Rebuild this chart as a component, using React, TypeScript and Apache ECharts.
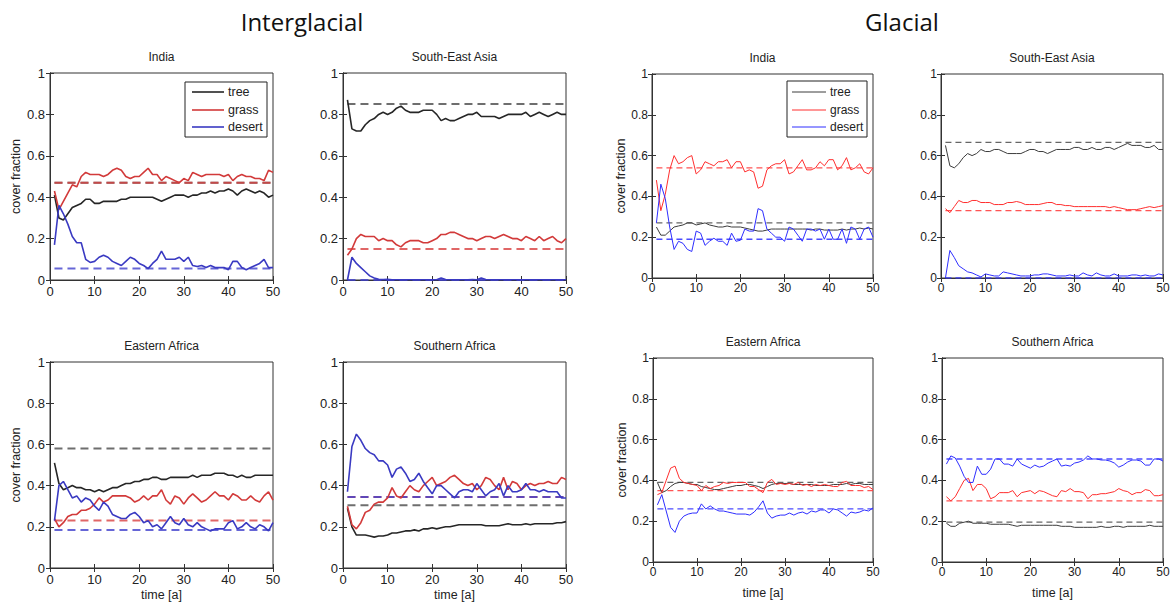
import React, { useEffect, useRef } from 'react';
import * as echarts from 'echarts';

// ---------- DATA (cover fraction, time steps 1..50) ----------
const igIndiaTree = [
  0.41, 0.30, 0.29, 0.32, 0.35, 0.36, 0.37, 0.39, 0.39, 0.37,
  0.37, 0.38, 0.38, 0.38, 0.38, 0.39, 0.39, 0.40, 0.40, 0.40,
  0.40, 0.40, 0.40, 0.39, 0.38, 0.39, 0.40, 0.41, 0.41, 0.41,
  0.40, 0.41, 0.41, 0.42, 0.42, 0.43, 0.42, 0.43, 0.43, 0.44,
  0.43, 0.41, 0.43, 0.44, 0.43, 0.42, 0.43, 0.42, 0.40, 0.41];
const igIndiaGrass = [
  0.43, 0.34, 0.38, 0.42, 0.46, 0.45, 0.50, 0.52, 0.51, 0.51,
  0.51, 0.50, 0.51, 0.53, 0.54, 0.53, 0.50, 0.49, 0.50, 0.50,
  0.52, 0.54, 0.51, 0.51, 0.48, 0.50, 0.49, 0.48, 0.47, 0.49,
  0.48, 0.52, 0.51, 0.50, 0.51, 0.51, 0.51, 0.51, 0.50, 0.51,
  0.48, 0.50, 0.51, 0.50, 0.50, 0.49, 0.49, 0.48, 0.53, 0.52];
const igIndiaDesert = [
  0.17, 0.36, 0.32, 0.27, 0.21, 0.18, 0.18, 0.10, 0.085, 0.09,
  0.11, 0.12, 0.11, 0.09, 0.08, 0.07, 0.09, 0.11, 0.10, 0.08,
  0.07, 0.055, 0.08, 0.10, 0.14, 0.10, 0.10, 0.10, 0.11, 0.09,
  0.11, 0.07, 0.065, 0.07, 0.06, 0.07, 0.06, 0.06, 0.06, 0.05,
  0.09, 0.09, 0.06, 0.05, 0.06, 0.07, 0.08, 0.10, 0.06, 0.06];
const igIndiaEq = [0.47, 0.47, 0.055];

const igSEAsiaTree = [
  0.87, 0.73, 0.72, 0.72, 0.75, 0.77, 0.78, 0.80, 0.81, 0.80,
  0.81, 0.83, 0.84, 0.82, 0.81, 0.81, 0.81, 0.82, 0.82, 0.82,
  0.80, 0.77, 0.78, 0.77, 0.77, 0.78, 0.79, 0.80, 0.80, 0.81,
  0.79, 0.79, 0.79, 0.79, 0.78, 0.79, 0.80, 0.80, 0.80, 0.80,
  0.81, 0.79, 0.80, 0.81, 0.80, 0.79, 0.80, 0.81, 0.80, 0.80];
const igSEAsiaGrass = [
  0.12, 0.15, 0.20, 0.22, 0.21, 0.21, 0.21, 0.19, 0.20, 0.19,
  0.19, 0.17, 0.16, 0.18, 0.19, 0.19, 0.19, 0.18, 0.18, 0.19,
  0.20, 0.22, 0.22, 0.23, 0.23, 0.22, 0.21, 0.20, 0.20, 0.19,
  0.20, 0.21, 0.21, 0.20, 0.21, 0.22, 0.21, 0.20, 0.20, 0.19,
  0.21, 0.20, 0.19, 0.21, 0.19, 0.20, 0.21, 0.19, 0.18, 0.20];
const igSEAsiaDesert = [
  0.0, 0.11, 0.08, 0.06, 0.04, 0.02, 0.01, 0.003, 0.002, 0.003,
  0.001, 0.001, 0.001, 0.001, 0.001, 0.001, 0.001, 0.001, 0.001, 0.001,
  0.001, 0.01, 0.002, 0.001, 0.001, 0.001, 0.001, 0.001, 0.002, 0.001,
  0.01, 0.002, 0.001, 0.001, 0.001, 0.001, 0.001, 0.001, 0.001, 0.001,
  0.001, 0.001, 0.001, 0.001, 0.001, 0.001, 0.001, 0.001, 0.001, 0.001];
const igSEAsiaEq = [0.85, 0.15, 0.0];

const igEAfricaTree = [
  0.51, 0.41, 0.38, 0.39, 0.40, 0.39, 0.39, 0.38, 0.38, 0.37,
  0.38, 0.37, 0.38, 0.39, 0.39, 0.40, 0.41, 0.41, 0.42, 0.42,
  0.43, 0.43, 0.44, 0.44, 0.43, 0.43, 0.44, 0.44, 0.44, 0.44,
  0.44, 0.45, 0.44, 0.45, 0.45, 0.45, 0.46, 0.46, 0.46, 0.45,
  0.45, 0.44, 0.45, 0.44, 0.44, 0.45, 0.45, 0.45, 0.45, 0.45];
const igEAfricaGrass = [
  0.24, 0.20, 0.22, 0.25, 0.26, 0.26, 0.28, 0.28, 0.29, 0.31,
  0.34, 0.32, 0.33, 0.35, 0.35, 0.35, 0.35, 0.34, 0.32, 0.33,
  0.35, 0.33, 0.35, 0.35, 0.38, 0.33, 0.31, 0.35, 0.34, 0.31,
  0.34, 0.36, 0.34, 0.32, 0.33, 0.35, 0.37, 0.35, 0.35, 0.33,
  0.36, 0.35, 0.33, 0.33, 0.35, 0.33, 0.32, 0.35, 0.37, 0.33];
const igEAfricaDesert = [
  0.23, 0.40, 0.42, 0.38, 0.34, 0.35, 0.32, 0.34, 0.33, 0.30,
  0.28, 0.32, 0.30, 0.26, 0.25, 0.24, 0.24, 0.26, 0.27, 0.25,
  0.22, 0.23, 0.20, 0.21, 0.19, 0.22, 0.25, 0.22, 0.21, 0.24,
  0.21, 0.20, 0.22, 0.20, 0.19, 0.18, 0.19, 0.19, 0.19, 0.22,
  0.23, 0.19, 0.20, 0.22, 0.20, 0.19, 0.21, 0.20, 0.18, 0.22];
const igEAfricaEq = [0.58, 0.23, 0.185];

const igSAfricaTree = [
  0.29, 0.20, 0.16, 0.16, 0.16, 0.155, 0.15, 0.155, 0.155, 0.16,
  0.17, 0.17, 0.175, 0.18, 0.18, 0.185, 0.18, 0.19, 0.19, 0.195,
  0.19, 0.195, 0.20, 0.20, 0.205, 0.21, 0.21, 0.21, 0.21, 0.21,
  0.21, 0.205, 0.205, 0.205, 0.205, 0.21, 0.215, 0.21, 0.21, 0.21,
  0.215, 0.21, 0.215, 0.215, 0.215, 0.215, 0.215, 0.22, 0.22, 0.225];
const igSAfricaGrass = [
  0.30, 0.21, 0.19, 0.22, 0.27, 0.28, 0.31, 0.32, 0.32, 0.34,
  0.39, 0.35, 0.34, 0.37, 0.40, 0.38, 0.37, 0.40, 0.42, 0.44,
  0.40, 0.41, 0.42, 0.44, 0.45, 0.43, 0.41, 0.40, 0.41, 0.38,
  0.40, 0.44, 0.43, 0.40, 0.38, 0.44, 0.38, 0.42, 0.41, 0.38,
  0.40, 0.41, 0.40, 0.41, 0.41, 0.42, 0.41, 0.41, 0.44, 0.43];
const igSAfricaDesert = [
  0.37, 0.59, 0.65, 0.62, 0.58, 0.56, 0.55, 0.52, 0.52, 0.50,
  0.44, 0.48, 0.49, 0.46, 0.42, 0.43, 0.46, 0.42, 0.39, 0.36,
  0.40, 0.40, 0.38, 0.36, 0.34, 0.37, 0.38, 0.38, 0.37, 0.41,
  0.38, 0.35, 0.37, 0.38, 0.41, 0.35, 0.40, 0.37, 0.37, 0.38,
  0.41, 0.38, 0.38, 0.37, 0.38, 0.37, 0.37, 0.37, 0.34, 0.34];
const igSAfricaEq = [0.305, 0.345, 0.345];

const gIndiaTree = [
  0.25, 0.21, 0.21, 0.23, 0.25, 0.255, 0.26, 0.27, 0.27, 0.26,
  0.265, 0.27, 0.26, 0.255, 0.25, 0.25, 0.255, 0.25, 0.25, 0.25,
  0.245, 0.24, 0.235, 0.23, 0.23, 0.235, 0.24, 0.24, 0.24, 0.24,
  0.24, 0.24, 0.24, 0.24, 0.24, 0.235, 0.24, 0.24, 0.235, 0.235,
  0.235, 0.235, 0.24, 0.235, 0.24, 0.24, 0.245, 0.24, 0.245, 0.24];
const gIndiaGrass = [
  0.48, 0.33, 0.41, 0.53, 0.60, 0.56, 0.57, 0.59, 0.60, 0.51,
  0.53, 0.57, 0.56, 0.55, 0.57, 0.57, 0.58, 0.54, 0.57, 0.57,
  0.52, 0.53, 0.52, 0.44, 0.45, 0.53, 0.55, 0.56, 0.56, 0.58,
  0.51, 0.52, 0.55, 0.58, 0.53, 0.53, 0.54, 0.57, 0.55, 0.58,
  0.58, 0.53, 0.55, 0.59, 0.53, 0.54, 0.56, 0.52, 0.51, 0.54];
const gIndiaDesert = [
  0.27, 0.46, 0.39, 0.25, 0.14, 0.18, 0.17, 0.14, 0.13, 0.23,
  0.22, 0.16, 0.18, 0.195, 0.18, 0.18, 0.16, 0.22, 0.18, 0.185,
  0.24, 0.23, 0.23, 0.34, 0.33, 0.24, 0.22, 0.20, 0.20, 0.18,
  0.25, 0.24, 0.21, 0.18, 0.24, 0.24, 0.23, 0.24, 0.19, 0.24,
  0.19, 0.19, 0.24, 0.17, 0.25, 0.24, 0.19, 0.24, 0.25, 0.20];
const gIndiaEq = [0.27, 0.54, 0.19];

const gSEAsiaTree = [
  0.65, 0.55, 0.54, 0.56, 0.59, 0.61, 0.60, 0.61, 0.63, 0.62,
  0.62, 0.63, 0.63, 0.62, 0.61, 0.61, 0.61, 0.61, 0.62, 0.63,
  0.63, 0.62, 0.62, 0.61, 0.62, 0.63, 0.63, 0.63, 0.63, 0.64,
  0.64, 0.63, 0.63, 0.64, 0.63, 0.63, 0.64, 0.64, 0.63, 0.64,
  0.65, 0.66, 0.65, 0.65, 0.65, 0.64, 0.64, 0.65, 0.63, 0.63];
const gSEAsiaGrass = [
  0.34, 0.32, 0.35, 0.38, 0.37, 0.37, 0.38, 0.38, 0.37, 0.37,
  0.37, 0.36, 0.36, 0.36, 0.37, 0.37, 0.375, 0.37, 0.36, 0.36,
  0.36, 0.36, 0.365, 0.37, 0.37, 0.36, 0.36, 0.355, 0.355, 0.35,
  0.35, 0.35, 0.35, 0.35, 0.35, 0.35, 0.35, 0.345, 0.35, 0.345,
  0.34, 0.335, 0.335, 0.335, 0.34, 0.345, 0.35, 0.345, 0.35, 0.355];
const gSEAsiaDesert = [
  0.0, 0.135, 0.10, 0.06, 0.045, 0.03, 0.025, 0.015, 0.005, 0.02,
  0.015, 0.01, 0.01, 0.03, 0.025, 0.02, 0.015, 0.01, 0.01, 0.01,
  0.015, 0.015, 0.02, 0.02, 0.015, 0.01, 0.01, 0.01, 0.015, 0.01,
  0.01, 0.025, 0.015, 0.01, 0.025, 0.015, 0.01, 0.01, 0.02, 0.01,
  0.01, 0.01, 0.015, 0.015, 0.01, 0.015, 0.01, 0.01, 0.02, 0.015];
const gSEAsiaEq = [0.665, 0.33, 0.0];

const gEAfricaTree = [
  0.39, 0.34, 0.35, 0.37, 0.385, 0.39, 0.39, 0.385, 0.38, 0.38,
  0.37, 0.365, 0.36, 0.355, 0.355, 0.36, 0.365, 0.37, 0.375, 0.375,
  0.38, 0.38, 0.375, 0.37, 0.36, 0.37, 0.38, 0.385, 0.385, 0.385,
  0.385, 0.38, 0.38, 0.38, 0.38, 0.38, 0.375, 0.375, 0.375, 0.375,
  0.38, 0.38, 0.38, 0.385, 0.38, 0.385, 0.385, 0.38, 0.38, 0.38];
const gEAfricaGrass = [
  0.33, 0.34, 0.40, 0.46, 0.47, 0.41, 0.39, 0.385, 0.38, 0.375,
  0.35, 0.375, 0.36, 0.37, 0.375, 0.39, 0.385, 0.39, 0.39, 0.39,
  0.39, 0.37, 0.37, 0.355, 0.34, 0.39, 0.405, 0.38, 0.385, 0.38,
  0.385, 0.38, 0.39, 0.375, 0.38, 0.37, 0.38, 0.375, 0.38, 0.375,
  0.37, 0.37, 0.39, 0.395, 0.375, 0.375, 0.375, 0.365, 0.37, 0.355];
const gEAfricaDesert = [
  0.28, 0.33, 0.25, 0.17, 0.145, 0.20, 0.225, 0.235, 0.24, 0.24,
  0.285, 0.26, 0.275, 0.26, 0.25, 0.25, 0.245, 0.24, 0.235, 0.235,
  0.235, 0.23, 0.245, 0.27, 0.30, 0.24, 0.215, 0.225, 0.23, 0.23,
  0.24, 0.23, 0.24, 0.245, 0.235, 0.25, 0.245, 0.255, 0.255, 0.24,
  0.26, 0.255, 0.24, 0.225, 0.245, 0.24, 0.245, 0.255, 0.25, 0.265];
const gEAfricaEq = [0.39, 0.35, 0.26];

const gSAfricaTree = [
  0.19, 0.175, 0.175, 0.19, 0.195, 0.20, 0.19, 0.19, 0.19, 0.19,
  0.185, 0.185, 0.185, 0.185, 0.185, 0.18, 0.175, 0.18, 0.18, 0.18,
  0.18, 0.18, 0.18, 0.18, 0.18, 0.18, 0.175, 0.175, 0.175, 0.17,
  0.17, 0.17, 0.17, 0.17, 0.17, 0.175, 0.17, 0.17, 0.175, 0.175,
  0.17, 0.175, 0.175, 0.175, 0.175, 0.175, 0.18, 0.175, 0.175, 0.175];
const gSAfricaGrass = [
  0.32, 0.30, 0.32, 0.36, 0.40, 0.41, 0.35, 0.38, 0.38, 0.36,
  0.31, 0.32, 0.34, 0.34, 0.34, 0.35, 0.32, 0.34, 0.345, 0.35,
  0.335, 0.35, 0.345, 0.335, 0.325, 0.32, 0.35, 0.345, 0.36, 0.345,
  0.345, 0.34, 0.31, 0.33, 0.33, 0.335, 0.335, 0.34, 0.345, 0.36,
  0.35, 0.345, 0.33, 0.34, 0.34, 0.355, 0.35, 0.325, 0.325, 0.33];
const gSAfricaDesert = [
  0.48, 0.52, 0.51, 0.47, 0.42, 0.39, 0.39, 0.47, 0.43, 0.43,
  0.455, 0.505, 0.505, 0.48, 0.48, 0.47, 0.505, 0.48, 0.47, 0.46,
  0.475, 0.465, 0.47, 0.485, 0.495, 0.505, 0.47, 0.475, 0.47, 0.485,
  0.49, 0.50, 0.52, 0.505, 0.505, 0.50, 0.50, 0.495, 0.485, 0.465,
  0.475, 0.49, 0.50, 0.50, 0.495, 0.475, 0.475, 0.505, 0.505, 0.495];
const gSAfricaEq = [0.195, 0.30, 0.505];

const coverTypes = ['tree', 'grass', 'desert'];
const xTicks = { min: 0, max: 50, interval: 10 };
const yTicks = { min: 0, max: 1, interval: 0.2 };
const eraTitles = ['Interglacial', 'Glacial'];

// ---------- LAYOUT / STYLE ----------
const FONT = '"Liberation Sans", Arial, Helvetica, sans-serif';

const eraStyle: any = {
  ig: {
    colors: ['#262626', '#d23a3a', '#3a3ac2'],
    dashColors: ['#4a4a4a', '#d84040', '#4040cc'],
    width: 1.6, dashWidth: 2, dash: [8, 5], dashOpacity: 0.8,
    tickFont: 13, nameFont: 12.5, titleFont: 12,
    yLabelMargin: 5, xLabelMargin: 5, yNameGap: 28, xNameGap: 20,
  },
  g: {
    colors: ['#3c3c3c', '#ff2e2e', '#2e2eff'],
    dashColors: ['#555555', '#ff4040', '#3838ff'],
    width: 1, dashWidth: 1.3, dash: [6, 4], dashOpacity: 0.9,
    tickFont: 12, nameFont: 12.5, titleFont: 12,
    yLabelMargin: 4, xLabelMargin: 4, yNameGap: 24, xNameGap: 24,
  },
};

const panels = [
  { title: 'India', era: 'ig', series: [igIndiaTree, igIndiaGrass, igIndiaDesert], eq: igIndiaEq, box: [50, 73, 223, 207], yName: true, xName: false },
  { title: 'South-East Asia', era: 'ig', series: [igSEAsiaTree, igSEAsiaGrass, igSEAsiaDesert], eq: igSEAsiaEq, box: [343, 73, 223, 207], yName: false, xName: false },
  { title: 'Eastern Africa', era: 'ig', series: [igEAfricaTree, igEAfricaGrass, igEAfricaDesert], eq: igEAfricaEq, box: [50, 362, 223, 206], yName: true, xName: true },
  { title: 'Southern Africa', era: 'ig', series: [igSAfricaTree, igSAfricaGrass, igSAfricaDesert], eq: igSAfricaEq, box: [343, 362, 223, 206], yName: false, xName: true },
  { title: 'India', era: 'g', series: [gIndiaTree, gIndiaGrass, gIndiaDesert], eq: gIndiaEq, box: [652, 74, 221, 204], yName: true, xName: false },
  { title: 'South-East Asia', era: 'g', series: [gSEAsiaTree, gSEAsiaGrass, gSEAsiaDesert], eq: gSEAsiaEq, box: [941, 74, 222, 204], yName: false, xName: false },
  { title: 'Eastern Africa', era: 'g', series: [gEAfricaTree, gEAfricaGrass, gEAfricaDesert], eq: gEAfricaEq, box: [653, 358, 220, 204], yName: true, xName: true },
  { title: 'Southern Africa', era: 'g', series: [gSAfricaTree, gSAfricaGrass, gSAfricaDesert], eq: gSAfricaEq, box: [942, 358, 221, 204], yName: false, xName: true },
];

const legends = [
  { era: 'ig', box: [185, 82, 82, 55], lineX: [192, 224], textX: 228, rowsY: [92, 110, 127], font: 12.5 },
  { era: 'g', box: [787, 81, 80, 56], lineX: [792, 826], textX: 830, rowsY: [92, 110, 127], font: 12 },
];

const eraTitleBoxes = [
  { x: 302, y: 21 },
  { x: 902, y: 21 },
];

function buildOption() {
  const grid: any[] = [];
  const xAxis: any[] = [];
  const yAxis: any[] = [];
  const series: any[] = [];
  const graphic: any[] = [];
  const axisColor = '#333';

  panels.forEach((p, i) => {
    const st = eraStyle[p.era];
    const [l, t, w, h] = p.box;
    grid.push({ left: l, top: t, width: w, height: h, show: true, borderColor: axisColor, borderWidth: 1, backgroundColor: '#fff', containLabel: false });

    const tick = { show: true, inside: true, length: 4, lineStyle: { color: axisColor, width: 1 } };
    const line = { show: true, lineStyle: { color: axisColor, width: 1 } };
    xAxis.push({
      gridIndex: i, type: 'value', ...xTicks, position: 'bottom',
      axisLine: line, axisTick: tick, splitLine: { show: false },
      axisLabel: { fontSize: st.tickFont, color: '#222', fontFamily: FONT, margin: st.xLabelMargin, showMinLabel: true, showMaxLabel: true },
      name: p.xName ? 'time [a]' : '', nameLocation: 'middle', nameGap: st.xNameGap,
      nameTextStyle: { fontSize: st.nameFont, color: '#222', fontFamily: FONT },
    });
    xAxis.push({
      gridIndex: i, type: 'value', ...xTicks, position: 'top',
      axisLine: line, axisTick: tick, splitLine: { show: false }, axisLabel: { show: false },
    });
    yAxis.push({
      gridIndex: i, type: 'value', ...yTicks, position: 'left',
      axisLine: line, axisTick: tick, splitLine: { show: false },
      axisLabel: { fontSize: st.tickFont, color: '#222', fontFamily: FONT, margin: st.yLabelMargin, showMinLabel: true, showMaxLabel: true },
      name: p.yName ? 'cover fraction' : '', nameLocation: 'middle', nameGap: st.yNameGap,
      nameTextStyle: { fontSize: st.nameFont, color: '#222', fontFamily: FONT },
    });
    yAxis.push({
      gridIndex: i, type: 'value', ...yTicks, position: 'right',
      axisLine: line, axisTick: tick, splitLine: { show: false }, axisLabel: { show: false },
    });

    // equilibrium (dashed) lines
    p.eq.forEach((v, k) => {
      series.push({
        type: 'line', name: coverTypes[k] + ' equilibrium', xAxisIndex: 2 * i, yAxisIndex: 2 * i,
        data: [[1, v], [50, v]], symbol: 'none', silent: true, z: 2,
        lineStyle: { color: st.dashColors[k], width: st.dashWidth, type: st.dash, opacity: st.dashOpacity },
      });
    });
    // transient lines
    p.series.forEach((vals, k) => {
      series.push({
        type: 'line', name: coverTypes[k], xAxisIndex: 2 * i, yAxisIndex: 2 * i,
        data: vals.map((v, j) => [j + 1, v]), symbol: 'none', z: 3,
        lineStyle: { color: st.colors[k], width: st.width },
      });
    });

    graphic.push({
      type: 'text', x: l + w / 2, y: t - 16,
      style: { text: p.title, fontSize: st.titleFont, fontFamily: FONT, fill: '#222', textAlign: 'center', textVerticalAlign: 'middle' },
    });
  });

  legends.forEach((lg) => {
    const st = eraStyle[lg.era];
    const [bx, by, bw, bh] = lg.box;
    graphic.push({ type: 'rect', shape: { x: bx, y: by, width: bw, height: bh }, style: { fill: '#fff', stroke: '#222', lineWidth: 1 }, z: 50 });
    coverTypes.forEach((name, k) => {
      graphic.push({ type: 'line', shape: { x1: lg.lineX[0], y1: lg.rowsY[k], x2: lg.lineX[1], y2: lg.rowsY[k] }, style: { stroke: st.colors[k], lineWidth: st.width }, z: 51 });
      graphic.push({ type: 'text', x: lg.textX, y: lg.rowsY[k], style: { text: name, fontSize: lg.font, fontFamily: FONT, fill: '#222', textVerticalAlign: 'middle' }, z: 51 });
    });
  });

  eraTitles.forEach((txt, k) => {
    graphic.push({ type: 'text', x: eraTitleBoxes[k].x, y: eraTitleBoxes[k].y, style: { text: txt, fontSize: 24, fontFamily: '"Open Sans", Lato, sans-serif', fill: '#111', textAlign: 'center', textVerticalAlign: 'middle' } });
  });

  return { animation: false, backgroundColor: '#fff', grid, xAxis, yAxis, series, graphic };
}

export default function App() {
  const ref = useRef<HTMLDivElement>(null);
  useEffect(() => {
    if (!ref.current) return;
    const chart = echarts.init(ref.current, undefined, { renderer: 'svg' });
    chart.setOption(buildOption() as any);
    return () => chart.dispose();
  }, []);
  return <div ref={ref} style={{ position: 'absolute', left: 0, top: 0, width: 1173, height: 606, background: '#fff' }} />;
}
